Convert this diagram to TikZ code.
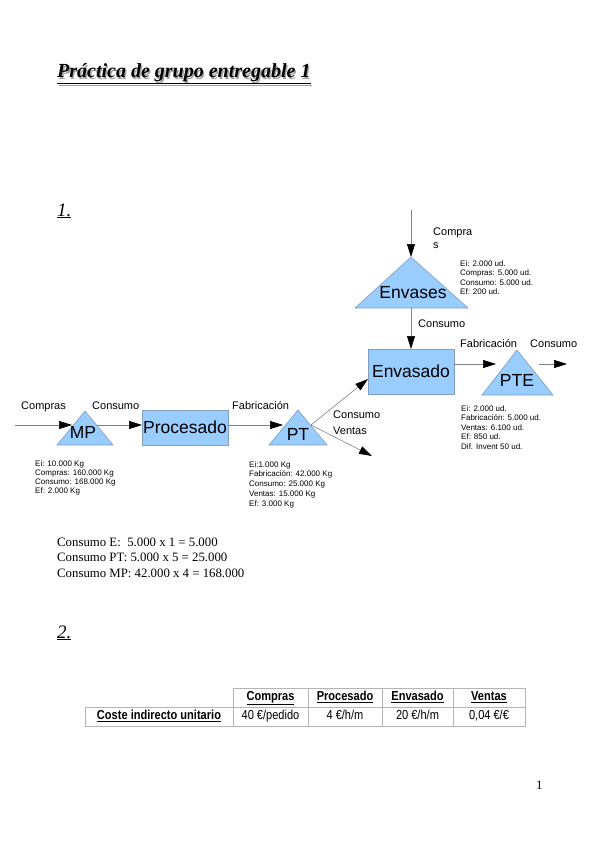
\documentclass[tikz,border=0pt]{standalone}
\usepackage{fontspec}
\setmainfont{Liberation Serif}
\setsansfont{Liberation Sans}
\newfontfamily\narrowfont[FakeStretch=0.85]{Liberation Sans}
\usetikzlibrary{arrows.meta}
\definecolor{boxblue}{HTML}{99CCFF}
\definecolor{boxline}{HTML}{7F9FBF}
\definecolor{lineg}{HTML}{808080}
\definecolor{tabline}{HTML}{B4B4B4}
\definecolor{shadowg}{HTML}{A0A0A0}
\begin{document}
\begin{tikzpicture}[x=1pt,y=-1pt,
  conn/.style={draw=lineg, line width=0.6pt, -{Triangle[length=13pt,width=8pt,color=black]}},
  shapefill/.style={fill=boxblue, draw=boxline, line width=0.6pt},
  bigtxt/.style={font=\sffamily\fontsize{17.5}{20}\selectfont, inner sep=0, anchor=base},
  lbl/.style={font=\sffamily\fontsize{11}{12}\selectfont, inner sep=0, anchor=base west},
  info/.style={font=\sffamily\fontsize{8}{9.5}\selectfont, inner sep=0, anchor=north west, align=left},
  serif/.style={font=\fontsize{12.8}{15.5}\selectfont, inner sep=0, anchor=base west},
  cell/.style={draw=tabline, line width=0.5pt, minimum height=19pt, inner sep=0, text height=9pt, text depth=3pt, font=\narrowfont\fontsize{13}{15}\selectfont},
  hcell/.style={cell, font=\narrowfont\bfseries\fontsize{13}{15}\selectfont}
]
\useasboundingbox (0,0) rectangle (599,848);

% title
\node[anchor=base west, inner sep=0, text=shadowg, font=\fontsize{20}{24}\selectfont\bfseries\itshape] (titleshadow) at (58.3,79.3) {\underline{Práctica de grupo entregable 1}};
\node[anchor=base west, inner sep=0, font=\fontsize{20}{24}\selectfont\bfseries\itshape] (title) at (57,78) {\underline{Práctica de grupo entregable 1}};

\node[anchor=base west, inner sep=0, font=\fontsize{19}{22}\selectfont\itshape] (sec1) at (57,216) {\underline{1.}};

% shapes
\coordinate (envA) at (411,257); \coordinate (envB) at (355,308); \coordinate (envC) at (468,308);
\draw[shapefill] (envA) -- (envB) -- (envC) -- cycle;
\node[bigtxt] (envases) at (413,298) {Envases};

\draw[shapefill] (368,349) rectangle (454,394);
\node[bigtxt] (envasado) at (411,377) {Envasado};

\coordinate (pteA) at (517,350); \coordinate (pteB) at (482,395); \coordinate (pteC) at (553,395);
\draw[shapefill] (pteA) -- (pteB) -- (pteC) -- cycle;
\node[bigtxt] (pte) at (517,386) {PTE};

\coordinate (mpA) at (85,411); \coordinate (mpB) at (57,445); \coordinate (mpC) at (113,445);
\draw[shapefill] (mpA) -- (mpB) -- (mpC) -- cycle;
\node[bigtxt] (mp) at (83,438) {MP};

\draw[shapefill] (142,410) rectangle (228,445);
\node[bigtxt] (procesado) at (185,433) {Procesado};

\coordinate (ptA) at (298,410); \coordinate (ptB) at (269,445); \coordinate (ptC) at (327,445);
\draw[shapefill] (ptA) -- (ptB) -- (ptC) -- cycle;
\node[bigtxt] (pt) at (298,440) {PT};

% connector end points
\coordinate (c1s) at (15,425);   \coordinate (c1e) at (72,425);
\coordinate (c2s) at (97,425);   \coordinate (c2e) at (142,425);
\coordinate (c3s) at (228,425);  \coordinate (c3e) at (283,425);
\coordinate (c4s) at (311,425);  \coordinate (c4e) at (368,379);
\coordinate (c5e) at (372,456);
\coordinate (c6s) at (411,210);  \coordinate (c6e) at (411,257);
\coordinate (c7s) at (411,308);  \coordinate (c7e) at (411,349);
\coordinate (c8s) at (454,364);  \coordinate (c8e) at (496,364);
\coordinate (c9s) at (539,364);  \coordinate (c9e) at (567,364);

\draw[conn] (c1s) -- (c1e);
\draw[conn] (c2s) -- (c2e);
\draw[conn] (c3s) -- (c3e);
\draw[conn] (c4s) -- (c4e);
\draw[conn] (c4s) -- (c5e);
\draw[conn] (c6s) -- (c6e);
\draw[conn] (c7s) -- (c7e);
\draw[conn] (c8s) -- (c8e);
\draw[conn] (c9s) -- (c9e);

% labels
\node[lbl] (lcompra) at (433,235) {Compra};
\node[lbl] (lcompras2) at (433,248) {s};
\node[lbl] (lconsE) at (418,327) {Consumo};
\node[lbl] (lfabE) at (460,347) {Fabricación};
\node[lbl] (lconsPTE) at (530,347) {Consumo};
\node[lbl] (lcomprasMP) at (21,409) {Compras};
\node[lbl] (lconsMP) at (92,409) {Consumo};
\node[lbl] (lfabP) at (232,409) {Fabricación};
\node[lbl] (lconsPT) at (333,418) {Consumo};
\node[lbl] (lventas) at (333,434) {Ventas};

% info blocks
\node[info] (infoEnv) at (460,260.2) {Ei: 2.000 ud.\\Compras: 5.000 ud.\\Consumo: 5.000 ud.\\Ef: 200 ud.};
\node[info] (infoPTE) at (461,405.2) {Ei: 2.000 ud.\\Fabricación: 5.000 ud.\\Ventas: 6.100 ud.\\Ef: 850 ud.\\Dif. Invent 50 ud.};
\node[info, font=\sffamily\fontsize{8}{9}\selectfont] (infoMP) at (35,460.2) {Ei: 10.000 Kg\\Compras: 160.000 Kg\\Consumo: 168.000 Kg\\Ef: 2.000 Kg};
\node[info, font=\sffamily\fontsize{8}{9.75}\selectfont] (infoPT) at (249,461.2) {Ei:1.000 Kg\\Fabricación: 42.000 Kg\\Consumo: 25.000 Kg\\Ventas: 15.000 Kg\\Ef: 3.000 Kg};

% calculations
\node[serif] (calc1) at (57,546) {Consumo E:\ \ 5.000 x 1 = 5.000};
\node[serif] (calc2) at (57,561) {Consumo PT: 5.000 x 5 = 25.000};
\node[serif] (calc3) at (57,577) {Consumo MP: 42.000 x 4 = 168.000};

\node[anchor=base west, inner sep=0, font=\fontsize{19}{22}\selectfont\itshape] (sec2) at (57,638) {\underline{2.}};

% table
\node[hcell, minimum width=75pt] (hCompras) at (270.5,697.5) {\underline{Compras}};
\node[hcell, minimum width=74pt] (hProc) at (345,697.5) {\underline{Procesado}};
\node[hcell, minimum width=71pt] (hEnv) at (417.5,697.5) {\underline{Envasado}};
\node[hcell, minimum width=72pt] (hVent) at (489,697.5) {\underline{Ventas}};
\node[hcell, minimum width=148pt] (rLabel) at (159,716.5) {\underline{Coste indirecto unitario}};
\node[cell, minimum width=75pt] (vCompras) at (270.5,716.5) {40 €/pedido};
\node[cell, minimum width=74pt] (vProc) at (345,716.5) {4 €/h/m};
\node[cell, minimum width=71pt] (vEnv) at (417.5,716.5) {20 €/h/m};
\node[cell, minimum width=72pt] (vVent) at (489,716.5) {0,04 €/€};

\node[serif] (pagenum) at (536,789) {1};
\end{tikzpicture}
\end{document}
